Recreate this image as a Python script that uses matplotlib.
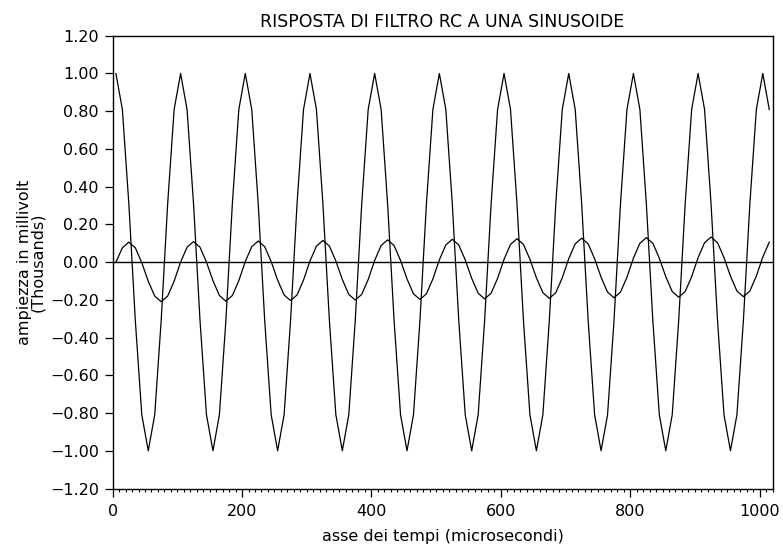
import matplotlib
matplotlib.use("Agg")
import matplotlib.pyplot as plt
from matplotlib.ticker import FuncFormatter, MultipleLocator

plt.rcParams['font.family'] = ['DejaVu Sans']

# time (microseconds): sample centres
tempi = [5, 15, 25, 35, 45, 55, 65, 75, 85, 95,
         105, 115, 125, 135, 145, 155, 165, 175, 185, 195,
         205, 215, 225, 235, 245, 255, 265, 275, 285, 295,
         305, 315, 325, 335, 345, 355, 365, 375, 385, 395,
         405, 415, 425, 435, 445, 455, 465, 475, 485, 495,
         505, 515, 525, 535, 545, 555, 565, 575, 585, 595,
         605, 615, 625, 635, 645, 655, 665, 675, 685, 695,
         705, 715, 725, 735, 745, 755, 765, 775, 785, 795,
         805, 815, 825, 835, 845, 855, 865, 875, 885, 895,
         905, 915, 925, 935, 945, 955, 965, 975, 985, 995,
         1005, 1015]

# input sinusoid (millivolt)
ingresso = [1000, 809, 309, -309, -809, -1000, -809, -309, 309, 809,
            1000, 809, 309, -309, -809, -1000, -809, -309, 309, 809,
            1000, 809, 309, -309, -809, -1000, -809, -309, 309, 809,
            1000, 809, 309, -309, -809, -1000, -809, -309, 309, 809,
            1000, 809, 309, -309, -809, -1000, -809, -309, 309, 809,
            1000, 809, 309, -309, -809, -1000, -809, -309, 309, 809,
            1000, 809, 309, -309, -809, -1000, -809, -309, 309, 809,
            1000, 809, 309, -309, -809, -1000, -809, -309, 309, 809,
            1000, 809, 309, -309, -809, -1000, -809, -309, 309, 809,
            1000, 809, 309, -309, -809, -1000, -809, -309, 309, 809,
            1000, 809]

# RC filter output (millivolt)
uscita = [0, 76, 106, 76, -3, -101, -180, -210, -180, -101,
          0, 79, 109, 79, 0, -98, -177, -207, -177, -98,
          3, 82, 112, 82, 3, -95, -174, -204, -174, -95,
          6, 85, 115, 85, 6, -92, -171, -201, -171, -92,
          9, 88, 118, 88, 9, -89, -168, -198, -168, -89,
          12, 91, 121, 91, 12, -86, -165, -195, -165, -86,
          15, 94, 124, 94, 15, -83, -162, -192, -162, -83,
          18, 97, 127, 97, 18, -80, -159, -189, -159, -80,
          21, 100, 130, 100, 21, -77, -156, -186, -156, -77,
          24, 103, 133, 103, 24, -74, -153, -183, -153, -74,
          27, 106]

fig = plt.figure(figsize=(7.83, 5.5), dpi=100)
ax = fig.add_axes([0.1439, 0.1118, 0.8427, 0.8232])

ax.plot(tempi, ingresso, color='black', lw=0.9)
ax.plot(tempi, uscita, color='black', lw=0.9)
ax.axhline(0, color='black', lw=1.0)

ax.set_xlim(0, 1020)
ax.set_ylim(-1200, 1200)
ax.xaxis.set_major_locator(MultipleLocator(200))
ax.xaxis.set_minor_locator(MultipleLocator(10))
ax.yaxis.set_major_locator(MultipleLocator(200))
ax.yaxis.set_major_formatter(FuncFormatter(lambda v, p: f"{v/1000:.2f}".replace('-', '\u2212')))

ax.tick_params(axis='x', which='major', direction='out', length=6, width=0.9, pad=5, labelsize=11.5)
ax.tick_params(axis='x', which='minor', direction='out', length=2.5, width=0.8)
ax.tick_params(axis='y', which='major', direction='out', length=6, width=0.9, pad=4, labelsize=11.5)
for s in ax.spines.values():
    s.set_linewidth(1.0)

ax.set_title("RISPOSTA DI FILTRO RC A UNA SINUSOIDE", fontsize=12.5, pad=6.5)
ax.set_xlabel("asse dei tempi (microsecondi)", fontsize=11.5, labelpad=7)
ax.set_ylabel("ampiezza in millivolt\n(Thousands)", fontsize=11.5, labelpad=3,
              linespacing=0.9)

fig.savefig("out.png", dpi=100)
